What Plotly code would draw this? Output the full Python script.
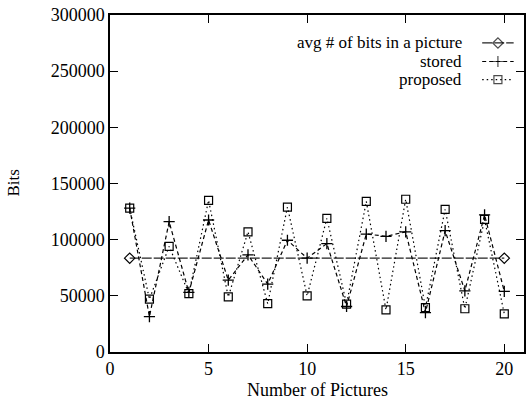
import plotly.graph_objects as go

pictures = list(range(1, 21))
proposed = [128000, 47000, 94000, 52000, 135000, 49000, 107000, 43000, 129000, 50000,
            119000, 42700, 134000, 37500, 136000, 39500, 127000, 38500, 118000, 34000]
stored = [128000, 31500, 116000, 53000, 117500, 64000, 86500, 60500, 99500, 83500,
          96500, 40500, 105000, 103000, 107000, 35000, 108000, 54500, 122000, 54000]
avg_x = [1, 20]
avg_bits = [83500, 83500]

legend_names = ["avg # of bits in a picture", "stored", "proposed"]
x_ticks = [0, 5, 10, 15, 20]
y_ticks = [0, 50000, 100000, 150000, 200000, 250000, 300000]
x_title = "Number of Pictures"
y_title = "Bits"

FONT = "Liberation Serif"
fig = go.Figure()

fig.add_trace(go.Scatter(x=avg_x, y=avg_bits, mode="lines+markers",
                         line=dict(color="#222", width=1.2, dash="10px,2px"),
                         marker=dict(symbol="diamond-open", size=8, color="black", line=dict(width=1.2)),
                         showlegend=False))
fig.add_trace(go.Scatter(x=pictures, y=stored, mode="lines+markers",
                         line=dict(color="black", width=1.2, dash="4px,3px"),
                         marker=dict(symbol="cross-thin-open", size=8, color="black", line=dict(width=1.3)),
                         showlegend=False))
fig.add_trace(go.Scatter(x=pictures, y=proposed, mode="lines+markers",
                         line=dict(color="black", width=1.2, dash="1.5px,3px"),
                         marker=dict(symbol="square-open", size=8, color="black", line=dict(width=1.2)),
                         showlegend=False))

# custom legend (text right, sample to the right) on an overlay axis in [0,1]
styles = [
    (dict(color="#222", width=1.2, dash="10px,2px"), "diamond-open"),
    (dict(color="black", width=1.2, dash="4px,3px"), "cross-thin-open"),
    (dict(color="black", width=1.2, dash="1.5px,3px"), "square-open"),
]
rows = [0.917, 0.862, 0.808]
for name, (ln, sym), ry in zip(legend_names, styles, rows):
    fig.add_trace(go.Scatter(x=[0.899, 0.937, 0.975], y=[ry, ry, ry], mode="lines+markers",
                             line=ln, marker=dict(symbol=sym, size=[0, 8, 0], color="black", line=dict(width=1.2)),
                             xaxis="x2", yaxis="y2", showlegend=False, hoverinfo="skip"))
    fig.add_annotation(x=0.855, y=ry, xref="x2", yref="y2", text=name, showarrow=False,
                       xanchor="right", yanchor="middle", font=dict(family=FONT, size=17, color="black"))

# axis titles as annotations
fig.add_annotation(x=0.5, y=0, xref="paper", yref="paper", yshift=-38, text=x_title, showarrow=False,
                   xanchor="center", yanchor="middle", font=dict(family=FONT, size=18, color="black"))
fig.add_annotation(x=0, y=0.5, xref="paper", yref="paper", xshift=-97, text=y_title, showarrow=False,
                   textangle=-90, xanchor="center", yanchor="middle",
                   font=dict(family=FONT, size=17, color="black"))

axis_common = dict(showgrid=False, zeroline=False, showline=True, linecolor="black", linewidth=1.5,
                   mirror="ticks", ticks="inside", ticklen=8, tickwidth=1.3, tickcolor="black",
                   tickfont=dict(family=FONT, size=18, color="black"), automargin=False,
                   ticklabeloverflow="allow")

fig.update_layout(
    width=532, height=403,
    margin=dict(l=110, r=8, t=15, b=51),
    paper_bgcolor="white", plot_bgcolor="white",
    xaxis=dict(range=[0, 21], tickvals=x_ticks, ticktext=[str(v) for v in x_ticks], **axis_common),
    yaxis=dict(range=[0, 300000], tickvals=y_ticks, ticktext=[str(v) for v in y_ticks], **axis_common),
    xaxis2=dict(overlaying="x", range=[0, 1], visible=False),
    yaxis2=dict(overlaying="y", range=[0, 1], visible=False),
    showlegend=False,
)

fig.write_html("out.html", config={"displayModeBar": False},
               post_script="document.body.style.margin='0px';")
